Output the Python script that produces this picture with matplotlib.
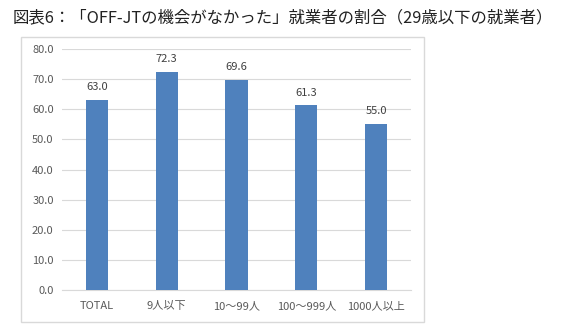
import matplotlib
matplotlib.use("Agg")
import matplotlib.pyplot as plt
from matplotlib.patches import Rectangle

plt.rcParams['font.family'] = ['Noto Sans CJK JP', 'DejaVu Sans']

categories = ["TOTAL", "9人以下", "10〜99人", "100〜999人", "1000人以上"]
values = [63.0, 72.3, 69.6, 61.3, 55.0]
yticks = [0, 10, 20, 30, 40, 50, 60, 70, 80]

W, H = 561, 330
fig = plt.figure(figsize=(W / 100, H / 100), dpi=100)
fig.patch.set_facecolor("white")

fig.text(13 / W, 1 - 18 / H, "図表6：「OFF-JTの機会がなかった」就業者の割合（29歳以下の就業者）",
         fontsize=11.8, color="#222222", va="center", ha="left")

# chart frame
fig.patches.append(Rectangle((21 / W, 1 - 322 / H), (424 - 21) / W, (322 - 37) / H,
                             transform=fig.transFigure, fill=False,
                             edgecolor="#d9d9d9", linewidth=1))

ax = fig.add_axes([62 / W, 1 - 290 / H, (411 - 62) / W, (290 - 49) / H])
x = range(len(categories))
bars = ax.bar(x, values, width=0.32, color="#4f81bd", zorder=3)
ax.set_xlim(-0.5, len(categories) - 0.5)
ax.set_ylim(0, 80)
ax.set_yticks(yticks)
ax.set_yticklabels([f"{v:.1f}" for v in yticks], fontsize=8, color="#595959")
ax.set_xticks(list(x))
ax.set_xticklabels(categories, fontsize=8, color="#595959")
ax.tick_params(length=0, pad=6)
ax.tick_params(axis="x", pad=8)
ax.grid(axis="y", color="#d9d9d9", linewidth=0.8, zorder=0)
for s in ["top", "right", "left"]:
    ax.spines[s].set_visible(False)
ax.spines["bottom"].set_color("#d9d9d9")

for b, v in zip(bars, values):
    ax.text(b.get_x() + b.get_width() / 2, v + 2.6, f"{v:.1f}",
            ha="center", va="bottom", fontsize=8, color="#404040")

fig.savefig("out.png", dpi=100, facecolor="white")
